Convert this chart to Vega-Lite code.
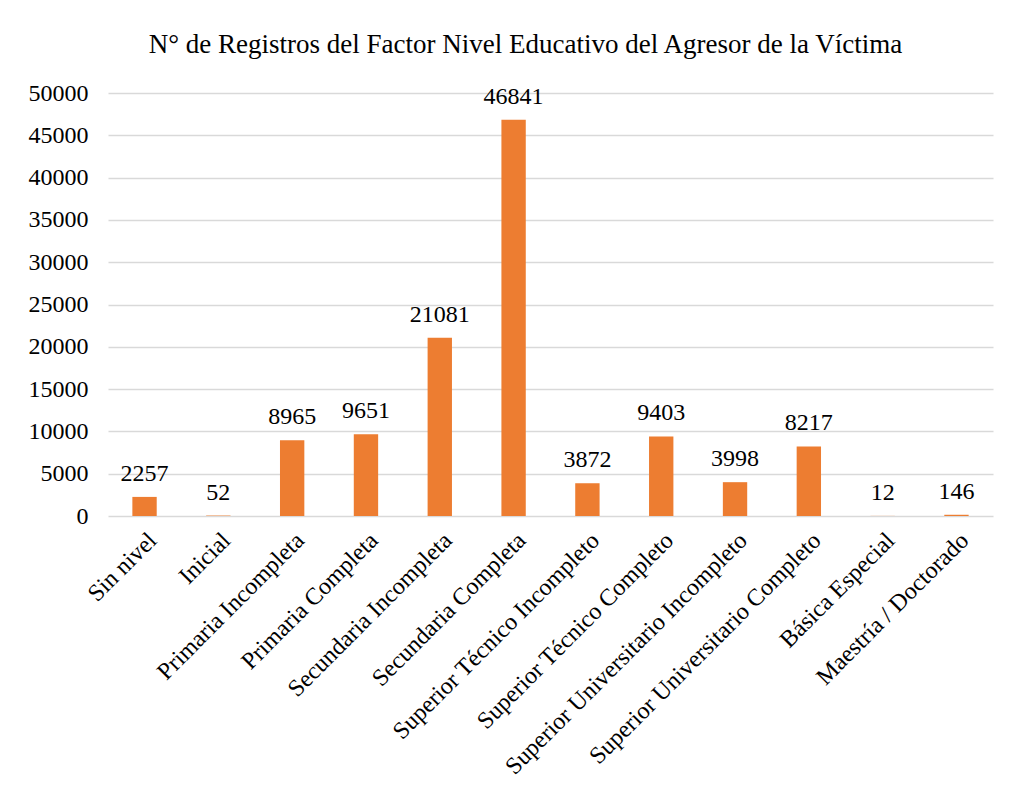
{
  "$schema": "https://vega.github.io/schema/vega-lite/v6.json",
  "autosize": {"type": "none"},
  "width": 885,
  "height": 423,
  "padding": {"left": 108, "top": 93, "right": 18, "bottom": 279},
  "background": "white",
  "title": {
    "text": "N° de Registros del Factor Nivel Educativo del Agresor de la Víctima",
    "font": "Times New Roman",
    "fontSize": 27,
    "fontWeight": "normal",
    "color": "#000000",
    "anchor": "middle",
    "dx": -25,
    "offset": 22
  },
  "data": {
    "values": [
      {"nivel": "Sin nivel", "registros": 2257},
      {"nivel": "Inicial", "registros": 52},
      {"nivel": "Primaria Incompleta", "registros": 8965},
      {"nivel": "Primaria Completa", "registros": 9651},
      {"nivel": "Secundaria Incompleta", "registros": 21081},
      {"nivel": "Secundaria Completa", "registros": 46841},
      {"nivel": "Superior Técnico Incompleto", "registros": 3872},
      {"nivel": "Superior Técnico Completo", "registros": 9403},
      {"nivel": "Superior Universitario Incompleto", "registros": 3998},
      {"nivel": "Superior Universitario Completo", "registros": 8217},
      {"nivel": "Básica Especial", "registros": 12},
      {"nivel": "Maestría / Doctorado", "registros": 146}
    ]
  },
  "encoding": {
    "x": {
      "field": "nivel",
      "type": "nominal",
      "sort": null,
      "scale": {"paddingInner": 0.67, "paddingOuter": 0.33},
      "axis": {
        "title": null,
        "labelAngle": -45,
        "labelFont": "Times New Roman",
        "labelFontSize": 24,
        "labelColor": "#000000",
        "labelPadding": 12,
        "labelLimit": 500,
        "ticks": false,
        "domain": false
      }
    },
    "y": {
      "field": "registros",
      "type": "quantitative",
      "scale": {"domain": [0, 50000], "nice": false},
      "axis": {
        "title": null,
        "values": [0, 5000, 10000, 15000, 20000, 25000, 30000, 35000, 40000, 45000, 50000],
        "format": "d",
        "labelFont": "Times New Roman",
        "labelFontSize": 24,
        "labelColor": "#000000",
        "labelPadding": 20,
        "ticks": false,
        "domain": false,
        "grid": true,
        "gridColor": "#d9d9d9",
        "gridWidth": 1.5
      }
    }
  },
  "layer": [
    {"mark": {"type": "bar", "color": "#ED7D31"}},
    {
      "mark": {
        "type": "text",
        "baseline": "bottom",
        "dy": -11,
        "font": "Times New Roman",
        "fontSize": 24,
        "color": "#000000"
      },
      "encoding": {"text": {"field": "registros", "type": "quantitative", "format": "d"}}
    }
  ],
  "config": {"view": {"stroke": null}}
}
